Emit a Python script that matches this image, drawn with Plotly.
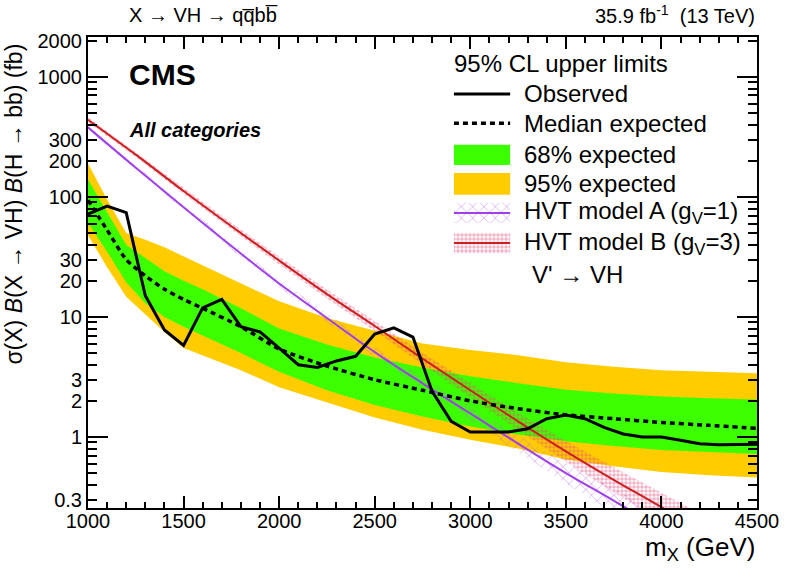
import math
import plotly.graph_objects as go

# ---------------- data ----------------
mass_obs = [1000, 1100, 1200, 1300, 1400, 1500, 1600, 1700, 1800, 1900,
            2000, 2100, 2200, 2300, 2400, 2500, 2600, 2700, 2800, 2900,
            3000, 3100, 3200, 3300, 3400, 3500, 3600, 3700, 3800, 3900,
            4000, 4100, 4200, 4300, 4400, 4500]
observed = [72, 84, 74, 15, 7.8, 5.8, 11.9, 14.0, 8.3, 7.5,
            5.5, 4.0, 3.8, 4.3, 4.7, 7.2, 8.1, 6.8, 2.4, 1.35,
            1.1, 1.1, 1.1, 1.17, 1.42, 1.52, 1.42, 1.2, 1.06, 1.0,
            1.0, 0.94, 0.88, 0.86, 0.86, 0.87]

mass_exp = [1000, 1100, 1200, 1300, 1400, 1500, 1600, 1800, 2000, 2250,
            2500, 2750, 3000, 3250, 3500, 3750, 4000, 4250, 4500]
exp_median = [94, 53, 30, 22, 17, 14, 11.8, 8.3, 5.4, 3.9,
              3.0, 2.45, 2.0, 1.72, 1.53, 1.42, 1.32, 1.25, 1.18]
exp_68_hi = [140, 74, 40, 31, 24, 20, 17, 11.8, 8.0, 5.9,
             4.6, 3.8, 3.2, 2.8, 2.48, 2.3, 2.17, 2.1, 2.05]
exp_68_lo = [61, 35, 19.5, 13, 10, 8.3, 7.0, 5.0, 3.5, 2.45,
             1.85, 1.48, 1.22, 1.05, 0.92, 0.84, 0.78, 0.75, 0.72]
exp_95_hi = [190, 95, 50, 44, 38, 32, 27, 19, 13.5, 9.8,
             7.7, 6.0, 5.3, 4.8, 4.2, 3.85, 3.6, 3.5, 3.4]
exp_95_lo = [48, 26, 14.7, 10.5, 7.5, 5.5, 4.8, 3.6, 2.6, 1.95,
             1.45, 1.15, 0.95, 0.8, 0.65, 0.57, 0.51, 0.48, 0.46]

mass_model = [1000, 1250, 1500, 1750, 2000, 2250, 2500, 2750, 3000, 3250,
              3500, 3750, 4000, 4250, 4500]
hvt_a = [380, 175, 82, 39, 19, 9.8, 5.1, 2.8, 1.57, 0.88,
         0.5, 0.295, 0.17, 0.1, 0.058]
hvt_b = [440, 225, 112, 57, 29.5, 15.5, 8.4, 4.5, 2.45, 1.35,
         0.76, 0.44, 0.26, 0.15, 0.088]
hvt_unc = [0.05, 0.05, 0.06, 0.07, 0.08, 0.09, 0.10, 0.12, 0.15, 0.18,
           0.22, 0.27, 0.32, 0.38, 0.45]

x_ticks = [1000, 1500, 2000, 2500, 3000, 3500, 4000, 4500]
y_ticks = [0.3, 1, 2, 3, 10, 20, 30, 100, 200, 300, 1000, 2000]
y_ticktext = ["0.3", "1", "2", "3", "10", "20", "30", "100", "200", "300", "1000", "2000"]

# ---------------- style ----------------
FONT = "Liberation Sans, Arial, Helvetica, sans-serif"
GREEN = "#3cff00"
YELLOW = "#ffcc00"
PURPLE = "#a040e8"
RED = "#cc2020"

fig = go.Figure()


def band(x, lo, hi, **kw):
    return go.Scatter(x=list(x) + list(x)[::-1], y=list(hi) + list(lo)[::-1],
                      fill="toself", mode="lines", line=dict(width=0),
                      showlegend=False, hoverinfo="skip", **kw)


fig.add_trace(band(mass_exp, exp_95_lo, exp_95_hi, fillcolor=YELLOW))
fig.add_trace(band(mass_exp, exp_68_lo, exp_68_hi, fillcolor=GREEN))

a_hi = [v * (1 + u) for v, u in zip(hvt_a, hvt_unc)]
a_lo = [v / (1 + u) for v, u in zip(hvt_a, hvt_unc)]
b_hi = [v * (1 + u) for v, u in zip(hvt_b, hvt_unc)]
b_lo = [v / (1 + u) for v, u in zip(hvt_b, hvt_unc)]

PAT_A = dict(shape="x", fgcolor="rgb(185,100,235)", bgcolor="rgba(0,0,0,0)",
             size=8, solidity=0.2, fillmode="overlay")
PAT_B = dict(shape=".", fgcolor="rgba(230,70,120,0.85)", bgcolor="rgba(0,0,0,0)",
             size=4, solidity=0.6, fillmode="overlay")

fig.add_trace(band(mass_model, a_lo, a_hi, fillcolor="rgba(0,0,0,0)", fillpattern=PAT_A))
fig.add_trace(band(mass_model, b_lo, b_hi, fillcolor="rgba(0,0,0,0)", fillpattern=PAT_B))

fig.add_trace(go.Scatter(x=mass_model, y=hvt_a, mode="lines", line=dict(color=PURPLE, width=2, shape="spline"),
                         showlegend=False, hoverinfo="skip"))
fig.add_trace(go.Scatter(x=mass_model, y=hvt_b, mode="lines", line=dict(color=RED, width=2, shape="spline"),
                         showlegend=False, hoverinfo="skip"))
fig.add_trace(go.Scatter(x=mass_exp, y=exp_median, mode="lines",
                         line=dict(color="black", width=3.5, dash="5px,4px", shape="spline", smoothing=0.6),
                         showlegend=False, hoverinfo="skip"))
fig.add_trace(go.Scatter(x=mass_obs, y=observed, mode="lines", line=dict(color="black", width=3),
                         showlegend=False, hoverinfo="skip"))

# invisible trace to activate decade-tick overlay axis
fig.add_trace(go.Scatter(x=[1000], y=[1], yaxis="y2", mode="markers", marker=dict(opacity=0),
                         showlegend=False, hoverinfo="skip"))

# ---------------- legend (drawn on a 0-1 overlay axis pair) ----------------
LX0, LX1 = 0.547, 0.631
TX = 0.649
leg_y = {"obs": 0.879, "med": 0.817, "g": (0.728, 0.771), "y": (0.665, 0.711),
         "a": (0.605, 0.648), "b": (0.541, 0.584)}


def ltrace(**kw):
    return go.Scatter(xaxis="x2", yaxis="y3", showlegend=False, hoverinfo="skip", **kw)


def lbox(y0, y1, **kw):
    return ltrace(x=[LX0, LX1, LX1, LX0, LX0], y=[y0, y0, y1, y1, y0], fill="toself",
                  mode="lines", line=dict(width=0), **kw)


fig.add_trace(ltrace(x=[LX0, LX1], y=[leg_y["obs"]] * 2, mode="lines", line=dict(color="black", width=3)))
fig.add_trace(ltrace(x=[LX0, LX1], y=[leg_y["med"]] * 2, mode="lines",
                     line=dict(color="black", width=3.5, dash="5px,4px")))
fig.add_trace(lbox(*leg_y["g"], fillcolor=GREEN))
fig.add_trace(lbox(*leg_y["y"], fillcolor=YELLOW))
fig.add_trace(lbox(*leg_y["a"], fillcolor="rgba(0,0,0,0)", fillpattern=PAT_A))
fig.add_trace(ltrace(x=[LX0, LX1], y=[sum(leg_y["a"]) / 2] * 2, mode="lines", line=dict(color=PURPLE, width=2)))
fig.add_trace(lbox(*leg_y["b"], fillcolor="rgba(0,0,0,0)", fillpattern=PAT_B))
fig.add_trace(ltrace(x=[LX0, LX1], y=[sum(leg_y["b"]) / 2] * 2, mode="lines", line=dict(color=RED, width=2)))

ann = []


def text(x, y, s, size, xanchor="left", **kw):
    ann.append(dict(x=x, y=y, xref="paper", yref="paper", text=s, showarrow=False,
                    xanchor=xanchor, yanchor="middle", font=dict(family=FONT, size=size, color="black"), **kw))


LEG_FS = 24
text(0.544, 0.943, "95% CL upper limits", LEG_FS)
text(TX, leg_y["obs"], "Observed", LEG_FS)
text(TX, leg_y["med"], "Median expected", LEG_FS)
text(TX, sum(leg_y["g"]) / 2, "68% expected", LEG_FS)
text(TX, sum(leg_y["y"]) / 2, "95% expected", LEG_FS)
text(TX, sum(leg_y["a"]) / 2, "HVT model A (g<sub>V</sub>=1)", LEG_FS)
text(TX, sum(leg_y["b"]) / 2, "HVT model B (g<sub>V</sub>=3)", LEG_FS)
text(0.661, 0.495, "V' \u2192 VH", LEG_FS)

text(0.058, 0.921, "<b>CMS</b>", 30)
text(0.058, 0.803, "<b><i>All categories</i></b>", 20)
text(0.058, 1.047, "X \u2192 VH \u2192 qq\u0305bb\u0305", 20)
text(1.0, 1.047, "35.9 fb<sup>-1</sup>  (13 TeV)", 20, xanchor="right")
text(1.0, -0.085, "m<sub>X</sub> (GeV)", 26, xanchor="right")
ann.append(dict(x=-0.11, y=0.645, xref="paper", yref="paper",
                text="\u03c3(X) <i>B</i>(X \u2192 VH) <i>B</i>(H \u2192 bb) (fb)",
                showarrow=False, textangle=-90, xanchor="center", yanchor="middle",
                font=dict(family=FONT, size=23, color="black")))

yr = [math.log10(0.256), math.log10(2150)]

fig.update_layout(
    width=786, height=570,
    margin=dict(l=88, r=29, t=37, b=62, autoexpand=False),
    paper_bgcolor="white", plot_bgcolor="white",
    showlegend=False,
    annotations=ann,
    xaxis=dict(range=[1000, 4500], tickvals=x_ticks, ticks="inside", ticklen=12, tickwidth=1.5,
               tickcolor="black", showline=True, linewidth=2, linecolor="black", mirror="ticks",
               showgrid=False, zeroline=False, automargin=False, ticklabelstandoff=-6,
               tickfont=dict(family=FONT, size=20, color="black"),
               minor=dict(tickvals=[m for m in range(1000, 4501, 100)], ticks="inside", ticklen=6,
                          tickwidth=1.5, tickcolor="black", showgrid=False)),
    yaxis=dict(type="log", range=yr, tickvals=y_ticks, ticktext=y_ticktext, ticks="inside",
               ticklen=9, tickwidth=1.5, tickcolor="black", showline=True, linewidth=2,
               linecolor="black", mirror="ticks", showgrid=False, zeroline=False, automargin=False,
               tickfont=dict(family=FONT, size=20, color="black"),
               minor=dict(tickvals=[0.4, 0.5, 0.6, 0.7, 0.8, 0.9, 4, 5, 6, 7, 8, 9,
                                    40, 50, 60, 70, 80, 90, 400, 500, 600, 700, 800, 900],
                          ticks="inside", ticklen=9, tickwidth=1.5, tickcolor="black", showgrid=False)),
    yaxis2=dict(type="log", range=yr, overlaying="y", side="left", tickvals=[1, 10, 100, 1000],
                ticks="inside", ticklen=20, tickwidth=1.5, tickcolor="black", mirror="ticks",
                showticklabels=False, showline=False, showgrid=False, zeroline=False, automargin=False),
    xaxis2=dict(overlaying="x", range=[0, 1], visible=False, automargin=False),
    yaxis3=dict(overlaying="y", range=[0, 1], visible=False, automargin=False),
)

fig.write_html("out.html", config={"displayModeBar": False},
               post_script="document.body.style.margin='0';document.body.style.padding='0';")
